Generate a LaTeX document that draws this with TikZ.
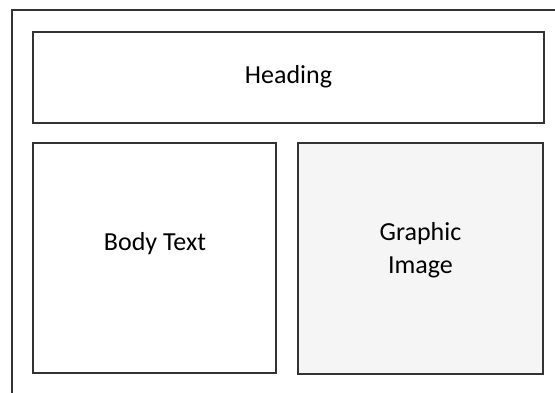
\documentclass[tikz,border=0pt]{standalone}
\usepackage{fontspec}
\setmainfont{Carlito}
\begin{document}
\begin{tikzpicture}[x=1pt,y=-1pt,
  frame/.style={draw=black!80,line width=1.8pt},
  box/.style={draw=black!80,line width=1.8pt},
  lbl/.style={font=\fontsize{26}{33}\selectfont,text=black,align=center}]
\useasboundingbox (0,0) rectangle (555,392);
\begin{scope}
\clip (0,0) rectangle (555,392);
\draw[frame] (12,10) rectangle (570,410);
\end{scope}
\draw[box] (33,32) rectangle (544,123);
\draw[box] (33,143) rectangle (276,373);
\draw[box,fill=black!4] (298,143) rectangle (543,374);
\node[lbl] (heading) at (288.5,77) {Heading};
\node[lbl] (body) at (155,244) {Body Text};
\node[lbl] (graphic) at (420.5,250) {Graphic\\Image};
\end{tikzpicture}
\end{document}
